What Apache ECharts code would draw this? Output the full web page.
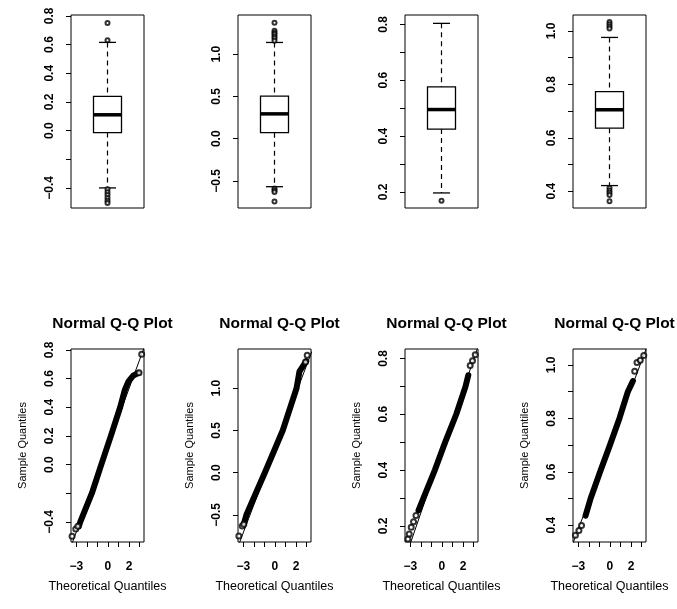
<!DOCTYPE html>
<html>
<head>
<meta charset="utf-8">
<script src="https://cdn.jsdelivr.net/npm/echarts@6/dist/echarts.min.js"></script>
<style>
  html, body { margin: 0; background: #fff; }
  #chart { width: 677px; height: 609px; }
</style>
</head>
<body>
<div id="chart"></div>
<script>
// boxplot stats per variable: [lower whisker, Q1, median, Q3, upper whisker]
const boxStats = [
  [-0.40, -0.014, 0.11, 0.239, 0.615],
  [-0.568, 0.071, 0.294, 0.504, 1.139],
  [0.196, 0.425, 0.495, 0.576, 0.804],
  [0.421, 0.636, 0.705, 0.773, 0.976]
]
const boxOutliers = [
  [0.75, 0.63, -0.41, -0.43, -0.45, -0.47, -0.49, -0.505],
  [1.373, 1.277, 1.255, 1.235, 1.21, 1.19, 1.16, -0.59, -0.61, -0.63, -0.742],
  [0.168],
  [1.034, 1.025, 1.017, 1.009, 0.412, 0.403, 0.394, 0.386, 0.362]
]

// y range shared by boxplot and Q-Q plot of the same variable
const yRanges = [[-0.54, 0.806], [-0.82, 1.464], [0.142, 0.834], [0.337, 1.06]]
const yTicks = [
  [-0.4, -0.2, 0, 0.2, 0.4, 0.6, 0.8],
  [-0.5, 0, 0.5, 1.0],
  [0.2, 0.3, 0.4, 0.5, 0.6, 0.7, 0.8],
  [0.4, 0.5, 0.6, 0.7, 0.8, 0.9, 1.0]
]
const yLabels = [
  [-0.4, 0, 0.2, 0.4, 0.6, 0.8],
  [-0.5, 0, 0.5, 1.0],
  [0.2, 0.4, 0.6, 0.8],
  [0.4, 0.6, 0.8, 1.0]
]

// Q-Q plots: dense middle of the point cloud, separate tail points, reference line ends
const qqBody = [
  [[-2.75, -0.43], [-2.62, -0.40], [-1.52, -0.20], [-0.63, 0.0], [0.28, 0.20], [1.16, 0.40], [1.6, 0.52], [1.95, 0.58], [2.4, 0.62], [2.9, 0.64]],
  [[-2.93, -0.60], [-2.71, -0.50], [-0.96, 0.0], [0.74, 0.5], [2.05, 1.0], [2.33, 1.20], [2.97, 1.32]],
  [[-2.22, 0.255], [-1.74, 0.30], [-0.67, 0.40], [0.31, 0.50], [1.36, 0.60], [2.24, 0.70], [2.5, 0.74]],
  [[-2.31, 0.436], [-1.83, 0.50], [-0.93, 0.60], [0.0, 0.70], [0.9, 0.80], [1.70, 0.90], [2.18, 0.94]]
]
const qqTails = [
  [[-3.4, -0.50], [-3.05, -0.45], [-2.85, -0.43], [2.95, 0.64], [3.2, 0.77]],
  [[-3.42, -0.75], [-3.1, -0.63], [-2.95, -0.61], [2.9, 1.31], [3.06, 1.39]],
  [[-3.22, 0.153], [-3.1, 0.171], [-2.91, 0.195], [-2.69, 0.215], [-2.46, 0.237], [2.68, 0.775], [2.9, 0.792], [3.16, 0.813]],
  [[-3.27, 0.362], [-2.94, 0.38], [-2.69, 0.399], [2.35, 0.977], [2.57, 1.009], [2.88, 1.018], [3.21, 1.036]]
]
const qqLines = [
  [[-3.5, -0.57], [3.5, 0.83]],
  [[-3.5, -0.875], [3.5, 1.435]],
  [[-3.5, 0.081], [3.5, 0.851]],
  [[-3.5, 0.3325], [3.5, 1.0675]]
]
const xTicks = [-3, -2, -1, 0, 1, 2, 3]
const xLabels = [-3, 0, 2]

const qqTitle = 'Normal Q-Q Plot'
const qqXName = 'Theoretical Quantiles'
const qqYName = 'Sample Quantiles'

// layout
const panelLeft = [71, 238, 405, 573]
const panelWidth = 73
const rowTop = [15, 349]
const rowHeight = 193
const font = 'Liberation Sans, Arial, sans-serif'

const fmtY = v => v.toFixed(1).replace('-', '\u2212')
const fmtX = v => String(v).replace('-', '\u2212')

const dashed = { stroke: '#000', lineWidth: 1.2, lineDash: [5, 4] }
const solid = { stroke: '#000', lineWidth: 1.3 }

function renderBox (params, api) {
  const x = api.value(0)
  const lo = api.coord([x, api.value(1)])
  const q1 = api.coord([x, api.value(2)])
  const med = api.coord([x, api.value(3)])
  const q3 = api.coord([x, api.value(4)])
  const hi = api.coord([x, api.value(5)])
  const cx = lo[0]
  const hw = 14
  const cw = 8.5
  return {
    type: 'group',
    children: [
      { type: 'line', shape: { x1: cx, y1: hi[1], x2: cx, y2: q3[1] }, style: dashed },
      { type: 'line', shape: { x1: cx, y1: q1[1], x2: cx, y2: lo[1] }, style: dashed },
      { type: 'line', shape: { x1: cx - cw, y1: hi[1], x2: cx + cw, y2: hi[1] }, style: solid },
      { type: 'line', shape: { x1: cx - cw, y1: lo[1], x2: cx + cw, y2: lo[1] }, style: solid },
      { type: 'rect', shape: { x: cx - hw, y: q3[1], width: hw * 2, height: q1[1] - q3[1] }, style: { fill: '#fff', stroke: '#000', lineWidth: 1.3 } },
      { type: 'line', shape: { x1: cx - hw, y1: med[1], x2: cx + hw, y2: med[1] }, style: { stroke: '#000', lineWidth: 3.5 } }
    ]
  }
}

const grid = []
const xAxis = []
const yAxis = []
const series = []
const title = []

for (let r = 0; r < 2; r++) {
  for (let i = 0; i < 4; i++) {
    const g = r * 4 + i
    grid.push({
      left: panelLeft[i],
      top: rowTop[r],
      width: panelWidth,
      height: rowHeight,
      show: true,
      borderColor: '#000',
      borderWidth: 1,
      backgroundColor: 'transparent'
    })
    yAxis.push({
      gridIndex: g,
      type: 'value',
      min: yRanges[i][0],
      max: yRanges[i][1],
      name: r === 1 ? qqYName : '',
      nameLocation: 'middle',
      nameRotate: 90,
      nameGap: 43,
      nameTextStyle: { fontSize: 11, color: '#000', fontFamily: font },
      axisLine: { show: false, onZero: false },
      axisTick: { show: true, length: 5, customValues: yTicks[i], lineStyle: { color: '#000', width: 1 } },
      axisLabel: {
        customValues: yLabels[i],
        rotate: 90,
        margin: 15,
        fontSize: 12,
        fontWeight: 'bold',
        color: '#000',
        fontFamily: font,
        formatter: fmtY
      },
      splitLine: { show: false }
    })
    if (r === 0) {
      xAxis.push({ gridIndex: g, type: 'value', min: 0.5, max: 1.5, show: false, axisLine: { onZero: false } })
      series.push({
        type: 'custom',
        xAxisIndex: g,
        yAxisIndex: g,
        renderItem: renderBox,
        encode: { x: 0, y: [1, 2, 3, 4, 5] },
        data: [[1].concat(boxStats[i])],
        z: 2
      })
      series.push({
        type: 'scatter',
        xAxisIndex: g,
        yAxisIndex: g,
        symbol: 'emptyCircle',
        symbolSize: 4,
        itemStyle: { color: '#000', borderWidth: 1 },
        data: boxOutliers[i].map(v => [1, v]),
        z: 3
      })
    } else {
      xAxis.push({
        gridIndex: g,
        type: 'value',
        min: -3.5,
        max: 3.42,
        name: qqXName,
        nameLocation: 'middle',
        nameGap: 38,
        nameTextStyle: { fontSize: 12.5, color: '#000', fontFamily: font },
        axisLine: { show: false, onZero: false },
        axisTick: { show: true, length: 5, customValues: xTicks, lineStyle: { color: '#000', width: 1 } },
        axisLabel: {
          customValues: xLabels,
          margin: 19,
          fontSize: 12,
          fontWeight: 'bold',
          color: '#000',
          fontFamily: font,
          formatter: fmtX
        },
        splitLine: { show: false }
      })
      title.push({
        text: qqTitle,
        left: panelLeft[i] + panelWidth / 2,
        top: 311,
        textAlign: 'center',
        textStyle: { fontSize: 15.5, fontWeight: 'bold', color: '#000', fontFamily: font }
      })
      series.push({
        type: 'line',
        xAxisIndex: g,
        yAxisIndex: g,
        data: qqLines[i],
        showSymbol: false,
        lineStyle: { color: '#000', width: 1 },
        z: 1
      })
      series.push({
        type: 'line',
        xAxisIndex: g,
        yAxisIndex: g,
        data: qqBody[i],
        showSymbol: false,
        lineStyle: { color: '#000', width: 6, cap: 'round', join: 'round' },
        z: 2
      })
      series.push({
        type: 'scatter',
        xAxisIndex: g,
        yAxisIndex: g,
        symbol: 'emptyCircle',
        symbolSize: 5,
        itemStyle: { color: '#000', borderWidth: 1 },
        data: qqTails[i],
        z: 3
      })
    }
  }
}

const chart = echarts.init(document.getElementById('chart'))
chart.setOption({
  animation: false,
  backgroundColor: '#fff',
  textStyle: { fontFamily: font },
  title,
  grid,
  xAxis,
  yAxis,
  series
})
</script>
</body>
</html>
